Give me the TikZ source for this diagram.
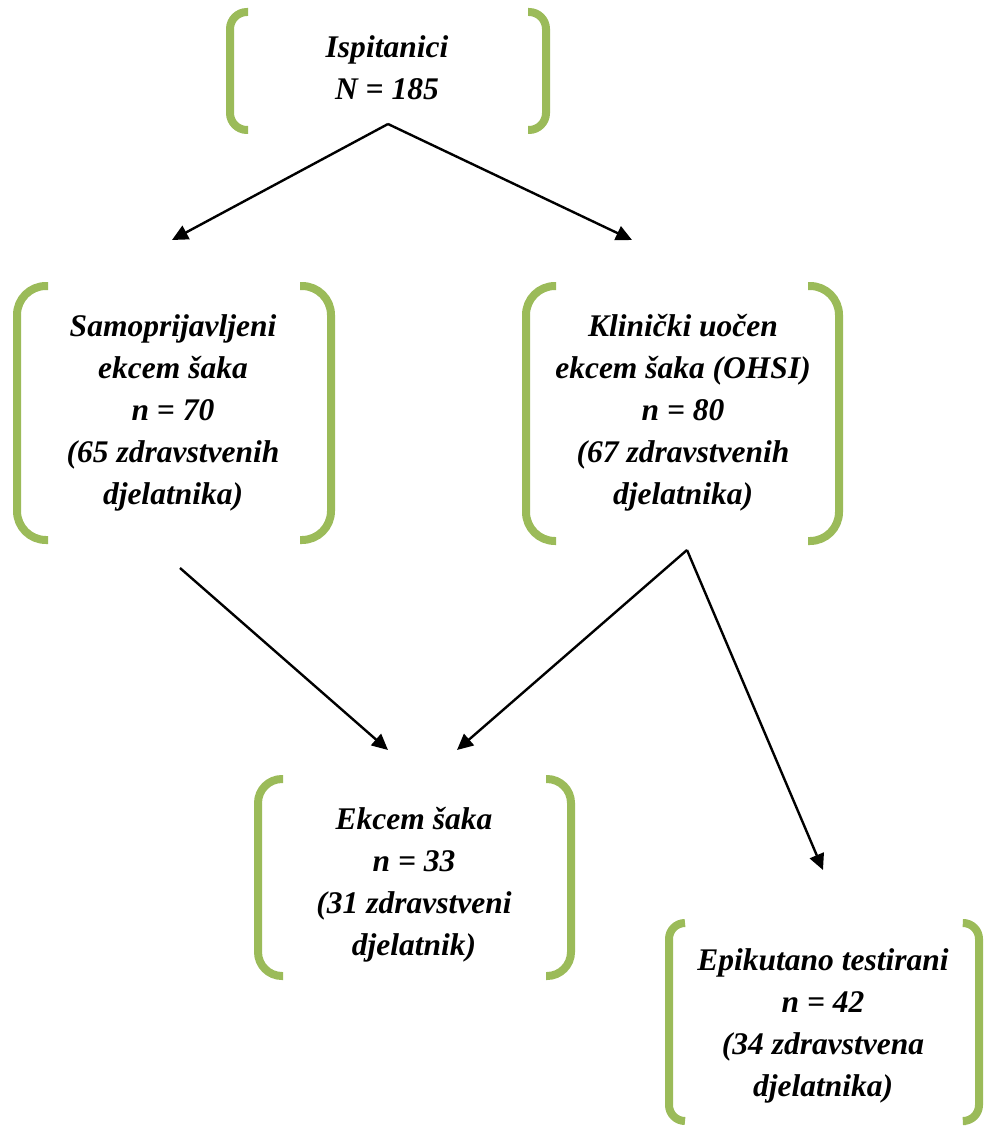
\documentclass[tikz,border=0pt]{standalone}
\usepackage{fontspec}
\setmainfont{Liberation Serif}
\usetikzlibrary{arrows.meta}
\definecolor{brgreen}{HTML}{9BBB59}
\tikzset{
  lbl/.style={align=center, inner sep=0pt, font=\fontsize{31.5}{42}\selectfont\bfseries\itshape},
  brk/.style={draw=brgreen, line width=8pt},
  arr/.style={draw=black, line width=2.4pt, -{Triangle[length=16pt,width=15pt]}},
  seg/.style={draw=black, line width=2.4pt}
}
\begin{document}
\begin{tikzpicture}[x=1pt,y=-1pt]
\useasboundingbox (0,0) rectangle (984,1126);
% brackets
% box 1
\draw[brk, rounded corners=17pt] (248,12) -- (230,12) -- (230,130) -- (248,130);
\draw[brk, rounded corners=17pt] (528,12) -- (546,12) -- (546,130) -- (528,130);
% box 2
\draw[brk, rounded corners=29pt] (48,286) -- (17,286) -- (17,540) -- (48,540);
\draw[brk, rounded corners=29pt] (300,286) -- (331,286) -- (331,540) -- (300,540);
% box 3
\draw[brk, rounded corners=29pt] (556,286) -- (526,286) -- (526,541) -- (556,541);
\draw[brk, rounded corners=29pt] (808,286) -- (839,286) -- (839,541) -- (808,541);
% box 4
\draw[brk, rounded corners=24pt] (283,779) -- (258,779) -- (258,976) -- (283,976);
\draw[brk, rounded corners=24pt] (546,779) -- (571,779) -- (571,976) -- (546,976);
% box 5
\draw[brk, rounded corners=16pt] (685,923) -- (669,923) -- (669,1121) -- (685,1121);
\draw[brk, rounded corners=16pt] (966,923) -- (979,923) -- (979,1121) -- (966,1121);
% texts
\node[lbl] (ispit) at (387,68) {Ispitanici\\N = 185};
\node[lbl] (samo) at (173,413) {Samoprijavljeni\\ekcem šaka\\n = 70\\(65 zdravstvenih\\djelatnika)};
\node[lbl] (klin) at (683,413) {Klinički uočen\\ekcem šaka (OHSI)\\n = 80\\(67 zdravstvenih\\djelatnika)};
\node[lbl] (ekcem) at (414,885) {Ekcem šaka\\n = 33\\(31 zdravstveni\\djelatnik)};
\node[lbl] (epik) at (823,1026) {Epikutano testirani\\n = 42\\(34 zdravstvena\\djelatnika)};
% connector points
\coordinate (apexTop) at (388,124);
\coordinate (toSamo) at (172,240);
\coordinate (toKlin) at (632,240);
\coordinate (fromSamo) at (180,568);
\coordinate (toEkcemL) at (388,750);
\coordinate (apexKlin) at (687,550);
\coordinate (toEkcemR) at (457,750);
\coordinate (toEpik) at (823,870);
\draw[arr] (apexTop) -- (toSamo);
\draw[arr] (apexTop) -- (toKlin);
\draw[arr] (fromSamo) -- (toEkcemL);
\draw[arr] (apexKlin) -- (toEkcemR);
\draw[arr] (apexKlin) -- (toEpik);
\end{tikzpicture}
\end{document}
